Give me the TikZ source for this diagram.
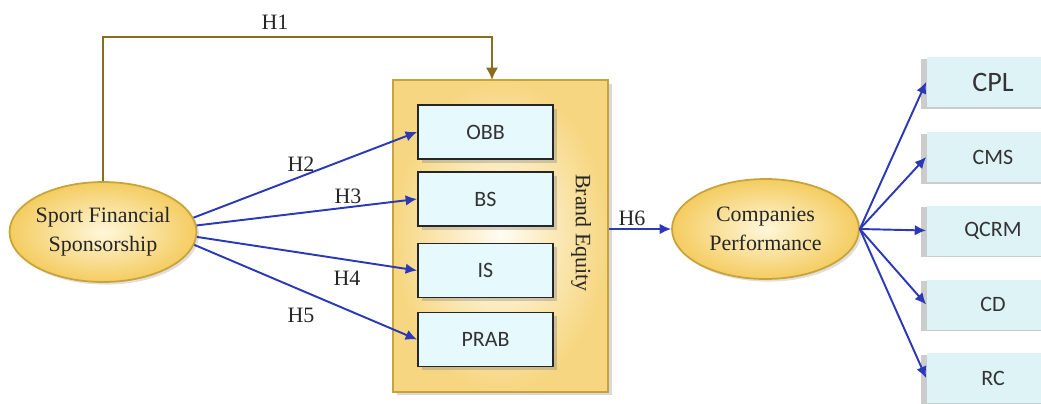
\documentclass[tikz,border=0pt]{standalone}
\usepackage{fontspec}
\setmainfont{Liberation Serif}
\newfontfamily\boxfont{Carlito}
\usetikzlibrary{arrows.meta,shapes.geometric,shadows}
\definecolor{blueline}{HTML}{2B38B8}
\definecolor{goldline}{HTML}{8C6D1F}
\definecolor{goldedge}{HTML}{C9A33A}
\definecolor{ellin}{HTML}{FFF7DA}
\definecolor{ellout}{HTML}{F4CC60}
\definecolor{bein}{HTML}{FFFCF2}
\definecolor{beout}{HTML}{F6D680}
\definecolor{cyanfill}{HTML}{E6F9FC}
\definecolor{cyanbox}{HTML}{DDF3F6}
\tikzset{
  oval/.style={ellipse, draw=goldedge, line width=1pt, inner color=ellin, outer color=ellout,
    minimum width=3.74cm, minimum height=2cm, inner sep=0pt,
    drop shadow={shadow xshift=1.5pt, shadow yshift=-1.5pt, opacity=0.25}},
  ovaltext/.style={align=center, font=\fontsize{12.5}{16.5}\selectfont, text=black!85},
  bebox/.style={rectangle, draw=goldedge, line width=1.2pt, inner color=bein, outer color=beout,
    minimum width=4.3cm, minimum height=6.24cm,
    drop shadow={shadow xshift=2pt, shadow yshift=-2pt, opacity=0.3}},
  ibox/.style={rectangle, draw=black!85, line width=1.1pt, fill=cyanfill,
    minimum width=2.7cm, minimum height=1.08cm, text=black!80,
    font=\boxfont\fontsize{12.5}{14}\selectfont,
    drop shadow={shadow xshift=2pt, shadow yshift=-2pt, opacity=0.35}},
  rbox/.style={rectangle, fill=cyanbox, minimum width=2.66cm, minimum height=1cm, text=black!80,
    font=\boxfont\fontsize{12.5}{14}\selectfont,
    drop shadow={shadow xshift=-3pt, shadow yshift=-1pt, opacity=0.4}},
  hlab/.style={font=\fontsize{12.5}{14}\selectfont, text=black!85},
  bl/.style={draw=blueline, line width=1.1pt, -{Latex[length=6.5pt,width=6pt]}},
  gl/.style={draw=goldline, line width=1.3pt},
}
\begin{document}
\begin{tikzpicture}[x=0.02cm,y=-0.02cm]
\useasboundingbox (0,0) rectangle (1041,403);
\clip (0,0) rectangle (1041,403);

% Brand equity container
\node[bebox] (be) at (500.5,236) {};
\node[ibox] (obb) at (485.5,132) {OBB};
\node[ibox] (bs) at (485.5,199) {BS};
\node[ibox] (is) at (485.5,270.5) {IS};
\node[ibox] (prab) at (485.5,339.5) {PRAB};
\node[hlab, rotate=-90] (belab) at (581,233) {Brand Equity};

% Ellipses
\node[oval, label={[ovaltext]center:Sport Financial\\Sponsorship}] (sfs) at (103,232) {};
\node[oval, label={[ovaltext]center:Companies\\Performance}] (cp) at (765.5,229) {};

% Right boxes
\node[rbox, font=\boxfont\fontsize{16}{18}\selectfont] (cpl) at (993,82) {CPL};
\node[rbox] (cms) at (993,157) {CMS};
\node[rbox] (qcrm) at (993,230.5) {QCRM};
\node[rbox] (cd) at (993,304.5) {CD};
\node[rbox] (rc) at (993,378) {RC};

% H1 connector
\coordinate (h1a) at (103,37);
\coordinate (h1b) at (492,37);
\coordinate (h1c) at (492,80);
\draw[gl, -{Latex[length=7pt,width=7pt]}] (sfs.north) -- (h1a) -- (h1b) -- (h1c);
\node[hlab] (h1) at (275,22) {H1};

% Blue arrows to brand equity dimensions
\draw[bl] (sfs.9) -- (obb.west);
\draw[bl] (sfs.4) -- (bs.west);
\draw[bl] (sfs.-3) -- (is.west);
\draw[bl] (sfs.-8) -- (prab.west);
\node[hlab] (h2) at (301,164) {H2};
\node[hlab] (h3) at (348,196) {H3};
\node[hlab] (h4) at (347,278) {H4};
\node[hlab] (h5) at (301,315) {H5};

% H6
\draw[bl] (be.east |- cp.west) -- (cp.west);
\node[hlab] (h6) at (632,218) {H6};

% Outcomes
\draw[bl] (cp.east) -- (cpl.west);
\draw[bl] (cp.east) -- (cms.west);
\draw[bl] (cp.east) -- (qcrm.west);
\draw[bl] (cp.east) -- (cd.west);
\draw[bl] (cp.east) -- (rc.west);
\end{tikzpicture}
\end{document}
